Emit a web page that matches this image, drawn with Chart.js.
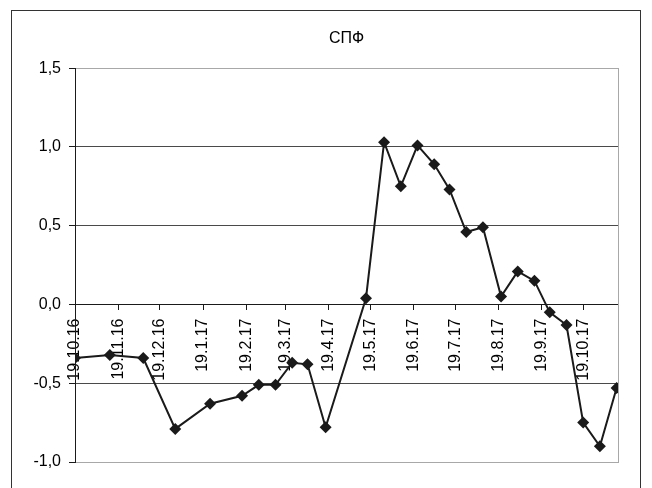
<!DOCTYPE html>
<html>
<head>
<meta charset="utf-8">
<script src="https://cdn.jsdelivr.net/npm/chart.js@4.4.0/dist/chart.umd.min.js"></script>
<style>
  html, body { margin: 0; padding: 0; background: #fff; }
  #wrap { position: relative; width: 652px; height: 488px; overflow: hidden; }
  #wrap canvas { position: absolute; left: 0; top: 0; }
  #frame { position: absolute; left: 11px; top: 10px; width: 628px; height: 540px;
           border: 1px solid #333; pointer-events: none; }
</style>
</head>
<body>
<div id="wrap">
  <canvas id="chart" width="652" height="488"></canvas>
  <div id="frame"></div>
</div>
<script>
// Series: observation dates and index values
const chartTitle = 'СПФ';
const dates = [
  '2016-10-19', '2016-11-13', '2016-12-07', '2016-12-30', '2017-01-24',
  '2017-02-16', '2017-02-28', '2017-03-12', '2017-03-24', '2017-04-04',
  '2017-04-17', '2017-05-16', '2017-05-29', '2017-06-10', '2017-06-22',
  '2017-07-04', '2017-07-15', '2017-07-27', '2017-08-08', '2017-08-21',
  '2017-09-02', '2017-09-14', '2017-09-25', '2017-10-07', '2017-10-19',
  '2017-10-31', '2017-11-12'
];
const values = [
  -0.34, -0.32, -0.34, -0.79, -0.63,
  -0.58, -0.51, -0.51, -0.37, -0.38,
  -0.78, 0.04, 1.03, 0.75, 1.01,
  0.89, 0.73, 0.46, 0.49, 0.05,
  0.21, 0.15, -0.05, -0.13, -0.75,
  -0.90, -0.53
];

// Date axis: monthly ticks on the 19th
const tickDates = [
  '2016-10-19', '2016-11-19', '2016-12-19', '2017-01-19', '2017-02-19',
  '2017-03-19', '2017-04-19', '2017-05-19', '2017-06-19', '2017-07-19',
  '2017-08-19', '2017-09-19', '2017-10-19'
];
const tickLabels = [
  '19.10.16', '19.11.16', '19.12.16', '19.1.17', '19.2.17',
  '19.3.17', '19.4.17', '19.5.17', '19.6.17', '19.7.17',
  '19.8.17', '19.9.17', '19.10.17'
];
const axisStart = '2016-10-19';
const axisEnd = '2017-11-13';

// Value axis
const yMin = -1.0;
const yMax = 1.5;
const yStep = 0.5;

const DAY_MS = 86400000;
const toUTC = s => { const [y, m, d] = s.split('-').map(Number); return Date.UTC(y, m - 1, d); };
const origin = toUTC(axisStart);
const dayOf = s => Math.round((toUTC(s) - origin) / DAY_MS);

const points = dates.map((d, i) => ({ x: dayOf(d), y: values[i] }));
const tickDays = tickDates.map(dayOf);

const FONT = "'Liberation Sans', Arial, sans-serif";
const INK = '#1a1a1a';
const TEXT = '#000';

new Chart(document.getElementById('chart'), {
  type: 'line',
  data: {
    datasets: [{
      data: points,
      borderColor: INK,
      borderWidth: 2,
      backgroundColor: INK,
      pointStyle: 'rectRot',
      pointRadius: 6,
      pointHoverRadius: 6,
      pointBackgroundColor: INK,
      pointBorderColor: INK,
      pointBorderWidth: 0,
      tension: 0,
      fill: false
    }]
  },
  options: {
    responsive: false,
    devicePixelRatio: 1,
    animation: false,
    layout: { padding: { left: 0, right: 34, top: 0, bottom: 26 } },
    plugins: {
      legend: { display: false },
      tooltip: { enabled: false },
      title: {
        display: true,
        text: chartTitle,
        fullSize: false,
        color: TEXT,
        font: { family: FONT, size: 16, weight: 'normal', lineHeight: 1.2 },
        padding: { top: 29, bottom: 20 }
      }
    },
    scales: {
      x: {
        type: 'linear',
        position: { y: 0 },
        min: dayOf(axisStart),
        max: dayOf(axisEnd),
        afterBuildTicks: scale => { scale.ticks = tickDays.map(v => ({ value: v })); },
        ticks: {
          autoSkip: false,
          minRotation: 90,
          maxRotation: 90,
          padding: 9,
          color: TEXT,
          font: { family: FONT, size: 16 },
          callback: (v, i) => tickLabels[i]
        },
        grid: {
          drawOnChartArea: false,
          drawTicks: true,
          tickLength: 5,
          color: INK
        },
        border: { display: true, color: INK, width: 1 }
      },
      y: {
        position: 'left',
        min: yMin,
        max: yMax,
        afterFit: scale => { scale.width = 75; },
        ticks: {
          stepSize: yStep,
          padding: 8,
          color: TEXT,
          font: { family: FONT, size: 16 },
          callback: v => v.toFixed(1).replace('.', ',')
        },
        grid: {
          tickLength: 6,
          lineWidth: 1,
          color: ctx => {
            if (ctx.type !== 'tick') return '#4a4a4a';
            const v = ctx.tick.value;
            if (Math.abs(v - yMin) < 1e-9 || Math.abs(v - yMax) < 1e-9) return '#a8a8a8';
            if (Math.abs(v) < 1e-9) return INK;
            return '#4a4a4a';
          },
          tickColor: INK
        },
        border: { display: true, color: INK, width: 1 }
      },
      yRight: {
        position: 'right',
        min: yMin,
        max: yMax,
        afterFit: scale => { scale.width = 0; },
        ticks: { display: false },
        grid: { display: false },
        border: { display: true, color: '#a8a8a8', width: 1 }
      }
    }
  }
});
</script>
</body>
</html>
